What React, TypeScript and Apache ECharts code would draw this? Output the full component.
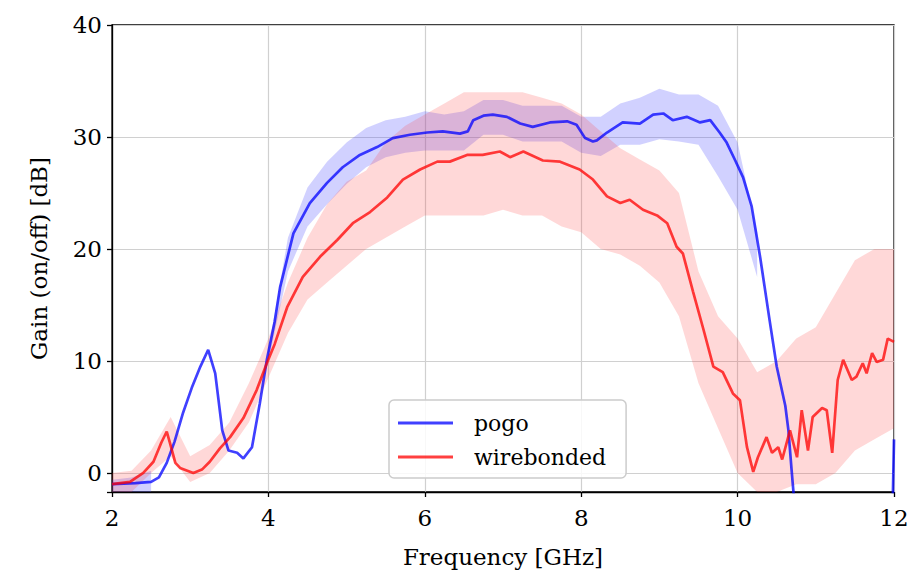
import React, { useEffect, useRef } from "react";
import * as echarts from "echarts";

// Smoothed traces (frequency GHz, gain dB)
const pogoFreq = [2.0, 2.3, 2.5, 2.6, 2.7, 2.8, 2.91, 3.02, 3.13, 3.23, 3.32, 3.41, 3.49, 3.6, 3.68, 3.79, 3.89, 3.98, 4.08, 4.15, 4.32, 4.53, 4.75, 4.95, 5.17, 5.39, 5.59, 5.81, 6.03, 6.23, 6.45, 6.55, 6.62, 6.75, 6.87, 7.05, 7.22, 7.38, 7.6, 7.82, 7.94, 8.05, 8.15, 8.2, 8.33, 8.53, 8.75, 8.92, 9.05, 9.17, 9.35, 9.52, 9.65, 9.77, 9.86, 9.97, 10.07, 10.18, 10.29, 10.41, 10.5, 10.61, 10.65, 10.69, 10.73, 10.8, 11.9, 11.98, 12.0];
const pogoGain = [-1.0, -0.9, -0.8, -0.4, 0.9, 2.8, 5.4, 7.6, 9.5, 11.0, 8.9, 3.8, 2.0, 1.8, 1.3, 2.3, 6.2, 10.1, 13.5, 16.6, 21.4, 24.1, 25.9, 27.3, 28.4, 29.1, 29.9, 30.2, 30.4, 30.5, 30.3, 30.5, 31.5, 31.9, 32.0, 31.8, 31.2, 30.9, 31.3, 31.4, 31.1, 29.9, 29.6, 29.7, 30.4, 31.3, 31.2, 32.0, 32.1, 31.5, 31.8, 31.3, 31.5, 30.4, 29.5, 27.9, 26.4, 23.8, 19.2, 13.6, 9.5, 6.0, 3.8, 0.3, -3, -8, -8, -4, 3];

const wireFreq = [2.0, 2.23, 2.4, 2.53, 2.63, 2.7, 2.74, 2.81, 2.87, 3.04, 3.15, 3.25, 3.38, 3.51, 3.68, 3.85, 3.98, 4.08, 4.24, 4.44, 4.66, 4.88, 5.08, 5.3, 5.52, 5.72, 5.94, 6.16, 6.32, 6.54, 6.74, 6.96, 7.09, 7.26, 7.51, 7.73, 7.98, 8.15, 8.33, 8.5, 8.62, 8.79, 8.97, 9.1, 9.22, 9.3, 9.43, 9.56, 9.69, 9.81, 9.94, 10.03, 10.12, 10.2, 10.26, 10.37, 10.44, 10.52, 10.57, 10.67, 10.76, 10.82, 10.9, 10.96, 11.08, 11.14, 11.21, 11.28, 11.35, 11.46, 11.52, 11.6, 11.65, 11.72, 11.78, 11.86, 11.92, 12.0];
const wireGain = [-1.0, -0.8, 0.0, 1.0, 2.7, 3.7, 2.7, 0.9, 0.45, 0.0, 0.3, 1.0, 2.2, 3.2, 4.9, 7.4, 9.8, 11.5, 14.8, 17.5, 19.3, 20.8, 22.3, 23.3, 24.6, 26.2, 27.1, 27.8, 27.8, 28.4, 28.4, 28.7, 28.2, 28.7, 27.9, 27.8, 27.1, 26.2, 24.7, 24.1, 24.4, 23.5, 23.0, 22.3, 20.2, 19.6, 16.2, 12.9, 9.5, 9.0, 7.1, 6.5, 2.3, 0.1, 1.4, 3.2, 1.8, 2.3, 1.2, 3.8, 1.4, 5.6, 2.0, 5.0, 5.8, 5.6, 1.8, 8.3, 10.1, 8.3, 8.6, 9.8, 8.9, 10.7, 9.9, 10.1, 12.0, 11.7];

// Raw-measurement scatter envelopes (lower / upper)
const bandFreq = [2.0, 2.25, 2.5, 2.75, 3.0, 3.25, 3.5, 3.75, 4.0, 4.25, 4.5, 4.75, 5.0, 5.25, 5.5, 5.75, 6.0, 6.25, 6.5, 6.75, 7.0, 7.25, 7.5, 7.75, 8.0, 8.25, 8.5, 8.75, 9.0, 9.25, 9.5, 9.75, 10.0, 10.25, 10.5, 10.75, 11.0, 11.25, 11.5, 11.75, 12.0];
const pogoLow = [-1.7, -1.8, -1.8, null, null, null, null, null, 10, 18, 22, 24, 25.8, 27.3, 28.2, 28.6, 28.8, 28.8, 28.8, 30.2, 30.2, 29.6, 29.6, 29.6, 28.6, 28.3, 29.3, 29.3, 29.8, 29.6, 29.3, 26.5, 23.5, 17.5, null, null, null, null, null, null, null];
const pogoHigh = [-0.6, -0.4, 0.2, null, null, null, null, null, 11, 21, 25.5, 27.8, 29.5, 30.8, 31.5, 31.8, 32.3, 32, 32.3, 33.3, 33.3, 32.8, 32.8, 32.8, 31.8, 31.8, 33, 33.5, 34.3, 33.8, 33.8, 32.8, 29.5, 21.5, null, null, null, null, null, null, null];
const wireLow = [-2, -1.8, 0, 1.5, -0.8, 0, 2, 4.5, 8.5, 12.5, 15.5, 17, 18.5, 20, 21, 22, 23, 23, 23, 23, 23.5, 23, 23, 22, 21.5, 20, 19.5, 18.5, 17, 14, 8, 4, 0, -2, -2, -1, -1, 0, 2, 3, 4];
const wireHigh = [0, 0.2, 2, 5, 1.5, 2.5, 4.5, 8, 12, 17, 21, 24, 26, 27, 29.5, 31, 32, 33, 34, 34, 34, 34, 33.5, 33, 32, 30.5, 29, 28, 27, 25, 18, 14, 12, 9, 10, 12, 13, 16, 19, 20, 20];

const xTicks = [2, 4, 6, 8, 10, 12];
const FONT = "DejaVu Serif";

export default function App() {
  const ref = useRef<HTMLDivElement>(null);
  useEffect(() => {
    if (!ref.current) return;
    const chart = echarts.init(ref.current, null, { renderer: "svg" });
    const pair = (xs: number[], ys: (number | null)[]) => xs.map((x, i) => [x, ys[i]]);

    const band = (name: string, lo: (number | null)[], hi: (number | null)[], color: string) => ({
      name, type: "custom", silent: true,
      data: [[bandFreq[0], 0]],
      encode: { x: 0, y: 1 },
      renderItem: (params: any, api: any) => {
        const cs = params.coordSys;
        const clampY = (p: number[]) => [p[0], Math.max(cs.y, Math.min(cs.y + cs.height, p[1]))];
        const children: any[] = [];
        let seg: number[] = [];
        const flush = () => {
          if (seg.length > 1) {
            const top = seg.map((i) => clampY(api.coord([bandFreq[i], hi[i]])));
            const bot = seg.slice().reverse().map((i) => clampY(api.coord([bandFreq[i], lo[i]])));
            children.push({ type: "polygon", shape: { points: top.concat(bot) }, style: { fill: color } });
          }
          seg = [];
        };
        bandFreq.forEach((_f, i) => {
          if (lo[i] == null || hi[i] == null) flush();
          else seg.push(i);
        });
        flush();
        return { type: "group", children };
      },
    });

    chart.setOption({
      animation: false,
      backgroundColor: "#fff",
      grid: { left: 112, right: 20, top: 25, bottom: 85, show: true, borderColor: "#000", borderWidth: 1.3, backgroundColor: "transparent" },
      xAxis: {
        type: "value", min: 2, max: 12, interval: 2,
        name: "Frequency [GHz]", nameLocation: "middle", nameGap: 53,
        nameTextStyle: { fontFamily: FONT, fontSize: 23, color: "#000" },
        axisLine: { onZero: false, lineStyle: { color: "#000", width: 1.3 } },
        axisTick: { show: true, length: 5, lineStyle: { color: "#000", width: 1.3 } },
        axisLabel: { fontFamily: FONT, fontSize: 23, color: "#000", margin: 14,
          formatter: (v: number) => (xTicks.includes(v) ? String(v) : "") },
        splitLine: { show: true, lineStyle: { color: "#d0d0d0", width: 1.2 } },
      },
      yAxis: {
        type: "value", min: -1.7, max: 40, minInterval: 10, maxInterval: 10,
        name: "Gain (on/off) [dB]", nameLocation: "middle", nameGap: 62,
        nameTextStyle: { fontFamily: FONT, fontSize: 23, color: "#000" },
        axisLine: { onZero: false, lineStyle: { color: "#000", width: 1.3 } },
        axisTick: { show: true, length: 5, lineStyle: { color: "#000", width: 1.3 } },
        axisLabel: { fontFamily: FONT, fontSize: 23, color: "#000", margin: 10,
          formatter: (v: number) => (Math.abs(v % 10) < 1e-9 ? String(v) : "") },
        splitLine: { show: true, lineStyle: { color: "#d0d0d0", width: 1.2 } },
      },
      legend: {
        data: ["pogo", "wirebonded"], orient: "vertical", left: 389, top: 400,
        icon: "rect", itemWidth: 55, itemHeight: 3, itemGap: 12,
        padding: [12, 20, 10, 9],
        backgroundColor: "rgba(255,255,255,0.85)", borderColor: "#cccccc", borderWidth: 1.5, borderRadius: 5,
        textStyle: { fontFamily: FONT, fontSize: 22, color: "#000", padding: [0, 0, 0, 16] },
      },
      series: [
        band("pogoBand", pogoLow, pogoHigh, "rgba(70,70,255,0.25)"),
        { name: "pogo", type: "line", data: pair(pogoFreq, pogoGain), symbol: "none",
          lineStyle: { color: "rgba(0,0,255,0.75)", width: 2.7 }, itemStyle: { color: "rgba(0,0,255,0.75)" } },
        band("wireBand", wireLow, wireHigh, "rgba(255,60,60,0.2)"),
        { name: "wirebonded", type: "line", data: pair(wireFreq, wireGain), symbol: "none",
          lineStyle: { color: "rgba(255,0,0,0.75)", width: 2.7 }, itemStyle: { color: "rgba(255,0,0,0.75)" } },
      ],
    });
    return () => chart.dispose();
  }, []);
  return <div ref={ref} style={{ position: "absolute", left: 0, top: 0, width: 914, height: 577 }} />;
}
